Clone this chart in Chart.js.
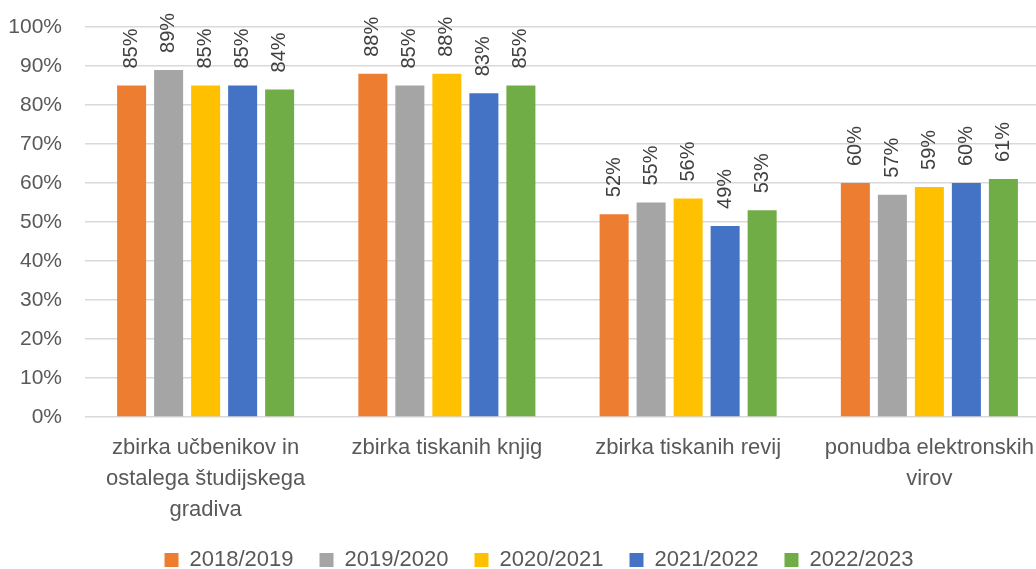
<!DOCTYPE html>
<html>
<head>
<meta charset="utf-8">
<script src="https://cdn.jsdelivr.net/npm/chart.js@4.4.1/dist/chart.umd.min.js"></script>
<style>
  html, body { margin: 0; padding: 0; background: #fff; overflow: hidden; }
  #wrap { position: absolute; left: 0; top: 0; }
</style>
</head>
<body>
<div id="wrap"><canvas id="grafico" width="1056" height="581"></canvas></div>
<script>
// podatki
const kategorije = [
  ['zbirka učbenikov in', 'ostalega študijskega', 'gradiva'],
  'zbirka tiskanih knjig',
  'zbirka tiskanih revij',
  ['ponudba elektronskih', 'virov']
];
const leta = ['2018/2019', '2019/2020', '2020/2021', '2021/2022', '2022/2023'];
const v2018 = [85, 88, 52, 60];
const v2019 = [89, 85, 55, 57];
const v2020 = [85, 88, 56, 59];
const v2021 = [85, 83, 49, 60];
const v2022 = [84, 85, 53, 61];
const barve = ['#ED7D31', '#A5A5A5', '#FFC000', '#4472C4', '#70AD47'];
const yTicks = [0, 10, 20, 30, 40, 50, 60, 70, 80, 90, 100];

const pisava = 'Liberation Sans';
const sivo = '#595959';

const vrednosti = [v2018, v2019, v2020, v2021, v2022];

// napisi nad stolpci (rotirani)
const oznake = {
  id: 'oznake',
  afterDatasetsDraw(chart) {
    const ctx = chart.ctx;
    ctx.save();
    ctx.font = '20px "' + pisava + '"';
    ctx.fillStyle = '#404040';
    ctx.textAlign = 'left';
    ctx.textBaseline = 'middle';
    chart.data.datasets.forEach((ds, i) => {
      const meta = chart.getDatasetMeta(i);
      meta.data.forEach((bar, j) => {
        ctx.save();
        ctx.translate(bar.x, bar.y - 17);
        ctx.rotate(-Math.PI / 2);
        ctx.fillText(ds.data[j] + '%', 0, 0);
        ctx.restore();
      });
    });
    ctx.restore();
  }
};

// legenda malo bolj desno, kot v excelu
const zamikLegende = {
  id: 'zamikLegende',
  afterLayout(chart) {
    chart.legend.left += 14;
    chart.legend.right += 14;
  }
};

const ctx = document.getElementById('grafico').getContext('2d');
const graf = new Chart(ctx, {
  type: 'bar',
  data: {
    labels: kategorije,
    datasets: leta.map((l, i) => ({
      label: l,
      data: vrednosti[i],
      backgroundColor: barve[i],
      barPercentage: 0.784,
      categoryPercentage: 0.767
    }))
  },
  options: {
    responsive: false,
    animation: false,
    layout: { padding: { left: 0, right: 6, top: 27, bottom: 0 } },
    plugins: {
      tooltip: { enabled: false },
      legend: {
        position: 'bottom',
        labels: {
          boxWidth: 14,
          boxHeight: 14,
          padding: 26,
          color: sivo,
          font: { family: pisava, size: 22 }
        }
      }
    },
    scales: {
      x: {
        grid: { display: false },
        border: { display: false },
        ticks: {
          autoSkip: false,
          maxRotation: 0,
          padding: 8,
          color: sivo,
          font: { family: pisava, size: 22, lineHeight: 1.4 }
        },
        afterFit(s) { s.height = 106; }
      },
      y: {
        min: 0,
        max: 100,
        border: { display: false },
        grid: { color: '#D9D9D9', lineWidth: 1.5, drawTicks: false },
        afterBuildTicks(s) { s.ticks = yTicks.map(v => ({ value: v })); },
        afterFit(s) {
          s.width = 85;
          s.paddingTop = 0;
          s.paddingBottom = 0;
        },
        ticks: {
          padding: 23,
          color: sivo,
          font: { family: pisava, size: 21 },
          callback: v => v + '%'
        }
      }
    }
  },
  plugins: [oznake, zamikLegende]
});
</script>
</body>
</html>
